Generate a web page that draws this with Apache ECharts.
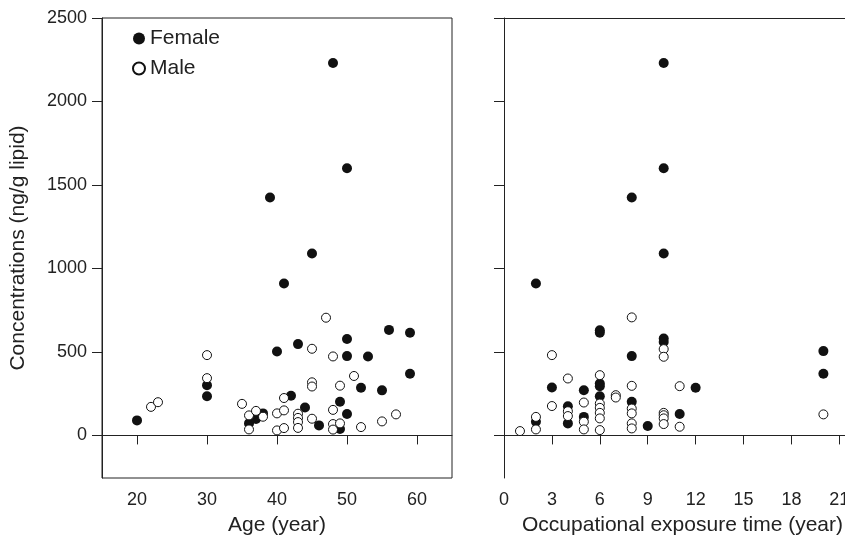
<!DOCTYPE html>
<html>
<head>
<meta charset="utf-8">
<script src="https://cdn.jsdelivr.net/npm/echarts@6/dist/echarts.min.js"></script>
<style>
  html, body { margin: 0; padding: 0; background: #fff; }
  #chart { width: 845px; height: 540px; }
</style>
</head>
<body>
<div id="chart"></div>
<script>
// [age, concentration]
var ageFemale = [[20, 90], [30, 300], [30, 235], [39, 1425], [48, 2230], [50, 1600], [45, 1090],
    [41, 910], [50, 578], [56, 632], [59, 615], [43, 547], [40, 503], [50, 475], [53, 473],
    [59, 369], [52, 285], [55, 270], [42, 238], [49, 202], [44, 167], [50, 128], [46, 60],
    [49, 38], [36, 72], [37, 98], [38, 132]];
var ageMale = [[22, 171], [23, 199], [30, 481], [30, 343], [47, 705], [45, 519], [48, 473],
    [51, 356], [45, 318], [45, 293], [49, 298], [41, 224], [35, 189], [48, 153], [57, 126],
    [55, 84], [52, 50], [40, 132], [41, 150], [40, 30], [41, 44], [43, 130], [43, 105],
    [43, 80], [43, 45], [45, 100], [48, 68], [48, 35], [49, 72], [36, 120], [36, 36],
    [37, 147], [38, 112]];
// [exposure years, concentration]
var expFemale = [[10, 2230], [10, 1600], [8, 1425], [10, 1090], [2, 910], [6, 630], [6, 615],
    [10, 580], [10, 560], [8, 475], [20, 505], [20, 369], [3, 287], [5, 271], [6, 311],
    [6, 295], [6, 235], [8, 201], [12, 285], [4, 175], [4, 72], [2, 82], [5, 111], [9, 56],
    [11, 128]];
var expMale = [[8, 707], [10, 517], [10, 471], [3, 481], [20, 126], [4, 341], [6, 361],
    [7, 241], [7, 227], [8, 297], [11, 295], [3, 176], [5, 197], [6, 191], [6, 165], [6, 135],
    [6, 102], [6, 32], [4, 145], [4, 116], [2, 111], [2, 36], [1, 26], [5, 82], [5, 36],
    [8, 161], [8, 132], [8, 72], [8, 42], [10, 135], [10, 121], [10, 102], [10, 68], [11, 52]];

var yTicks = [0, 500, 1000, 1500, 2000, 2500];
var ageTicks = [20, 30, 40, 50, 60];
var expTicks = [0, 3, 6, 9, 12, 15, 18, 21];

var ink = '#222';
var font = 'Liberation Sans, Arial, Helvetica, sans-serif';
var expMax = 341 / 15.97;

var myChart = echarts.init(document.getElementById('chart'));

function plain(v) { return String(v); }

function xAxisOf(idx, min, max, ticks, name, shift) {
    return {
        type: 'value', gridIndex: idx, min: min, max: max,
        splitLine: { show: false },
        axisLine: { show: true, lineStyle: { color: ink, width: 1 } },
        axisTick: { show: true, length: 9, customValues: ticks, lineStyle: { color: ink } },
        axisLabel: { customValues: ticks, margin: 13, color: ink, fontSize: 18, fontFamily: font, formatter: plain },
        name: name, nameLocation: 'middle', nameGap: 37,
        nameTextStyle: { color: ink, fontSize: 21, fontFamily: font, padding: [0, 0, 0, shift] }
    };
}

function yAxisOf(idx, showLabel) {
    return {
        type: 'value', gridIndex: idx, min: -255, max: 2500,
        splitLine: { show: false },
        axisLine: { show: true, lineStyle: { color: ink, width: 1 } },
        axisTick: { show: true, length: 10, customValues: yTicks, lineStyle: { color: ink } },
        axisLabel: { show: showLabel, customValues: yTicks, margin: 15, color: ink, fontSize: 18, fontFamily: font, formatter: plain },
        name: showLabel ? 'Concentrations (ng/g lipid)' : '',
        nameLocation: 'middle', nameGap: 73,
        nameTextStyle: { color: ink, fontSize: 21, fontFamily: font }
    };
}

var filled = { color: '#111', opacity: 1 };
var hollow = { color: '#fff', borderColor: '#111', borderWidth: 1, opacity: 1 };

var option = {
    animation: false,
    backgroundColor: '#fff',
    grid: [
        { left: 102, top: 18, width: 350, height: 460, outerBoundsMode: 'none', show: true, borderColor: ink, borderWidth: 1, backgroundColor: 'transparent' },
        { left: 504, top: 18, right: 0, height: 460, outerBoundsMode: 'none', show: false }
    ],
    legend: {
        data: ['Female', 'Male'],
        orient: 'vertical',
        left: 127, top: 23,
        itemWidth: 12, itemHeight: 12, itemGap: 9,
        textStyle: { color: ink, fontSize: 21, fontFamily: font, lineHeight: 21 }
    },
    xAxis: [
        xAxisOf(0, 15, 65, ageTicks, 'Age (year)', 0),
        xAxisOf(1, 0, expMax, expTicks, 'Occupational exposure time (year)', 16),
        {
            type: 'value', gridIndex: 1, position: 'top', min: 0, max: expMax,
            splitLine: { show: false }, axisTick: { show: false }, axisLabel: { show: false },
            axisLine: { show: true, onZero: false, lineStyle: { color: ink, width: 1 } }
        }
    ],
    yAxis: [yAxisOf(0, true), yAxisOf(1, false)],
    series: [
        { name: 'Female', type: 'scatter', xAxisIndex: 0, yAxisIndex: 0, data: ageFemale, symbolSize: 10, itemStyle: filled },
        { name: 'Male', type: 'scatter', xAxisIndex: 0, yAxisIndex: 0, data: ageMale, symbolSize: 9, itemStyle: hollow },
        { name: 'Female', type: 'scatter', xAxisIndex: 1, yAxisIndex: 1, data: expFemale, symbolSize: 10, itemStyle: filled },
        { name: 'Male', type: 'scatter', xAxisIndex: 1, yAxisIndex: 1, data: expMale, symbolSize: 9, itemStyle: hollow }
    ]
};

myChart.setOption(option);
</script>
</body>
</html>
